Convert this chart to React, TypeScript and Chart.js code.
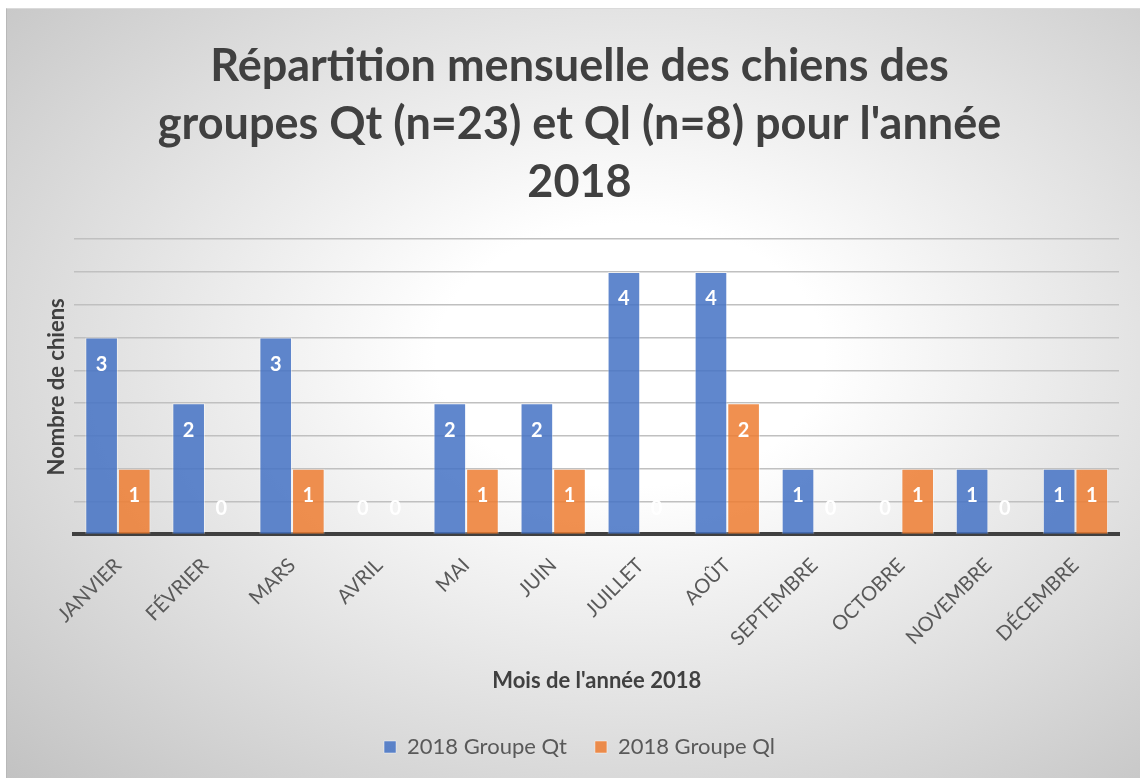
import React, { useEffect, useRef } from "react";
import { Chart, registerables } from "chart.js";

Chart.register(...registerables);

const months = ["JANVIER", "FÉVRIER", "MARS", "AVRIL", "MAI", "JUIN", "JUILLET", "AOÛT", "SEPTEMBRE", "OCTOBRE", "NOVEMBRE", "DÉCEMBRE"];
const groupeQt = [3, 2, 3, 0, 2, 2, 4, 4, 1, 0, 1, 1];
const groupeQl = [1, 0, 1, 0, 1, 1, 0, 2, 0, 1, 0, 1];
const seriesNames = ["2018 Groupe Qt", "2018 Groupe Ql"];
const titleLines = ["Répartition mensuelle des chiens des", "groupes Qt (n=23) et Ql (n=8) pour l'année", "2018"];
const yTitle = "Nombre de chiens";
const xTitle = "Mois de l'année 2018";

const FONT = "Lato, 'Open Sans', sans-serif";

const dataLabels = {
  id: "dataLabels",
  afterDatasetsDraw(chart: any) {
    const ctx = chart.ctx;
    ctx.save();
    ctx.fillStyle = "#ffffff";
    ctx.font = `bold 20px ${FONT}`;
    ctx.textAlign = "center";
    ctx.textBaseline = "middle";
    chart.data.datasets.forEach((ds: any, di: number) => {
      const meta = chart.getDatasetMeta(di);
      meta.data.forEach((bar: any, i: number) => {
        const v = ds.data[i];
        const y = v > 0 ? bar.y + 27 : bar.base - 26;
        ctx.fillText(String(v), bar.x, y);
      });
    });
    ctx.restore();
  },
};

export default function App() {
  const ref = useRef<HTMLCanvasElement>(null);
  useEffect(() => {
    if (!ref.current) return;
    const chart = new Chart(ref.current, {
      type: "bar",
      data: {
        labels: months,
        datasets: [
          {
            label: seriesNames[0],
            data: groupeQt,
            backgroundColor: "rgba(68,114,196,0.85)",
            borderColor: "rgba(255,255,255,0.45)",
            borderWidth: 1,
            categoryPercentage: 0.75,
            barPercentage: 1.0,
          },
          {
            label: seriesNames[1],
            data: groupeQl,
            backgroundColor: "rgba(237,125,49,0.85)",
            borderColor: "rgba(255,255,255,0.45)",
            borderWidth: 1,
            categoryPercentage: 0.75,
            barPercentage: 1.0,
          },
        ],
      },
      options: {
        animation: false,
        responsive: false,
        layout: { padding: { left: 33, right: 21, top: 28, bottom: 10 } },
        plugins: {
          title: {
            display: true,
            text: titleLines,
            color: "#404040",
            font: { family: FONT, size: 45, weight: "bold", lineHeight: 1.29 },
            padding: { top: 0, bottom: 28 },
          },
          legend: {
            position: "bottom",
            labels: {
              color: "#595959",
              font: { family: FONT, size: 22 },
              boxWidth: 12,
              boxHeight: 12,
              padding: 28,
            },
          },
          tooltip: { enabled: false },
        },
        scales: {
          x: {
            grid: { display: false },
            border: { display: true, color: "#404040", width: 4 },
            ticks: {
              color: "#595959",
              font: { family: FONT, size: 20 },
              maxRotation: 45,
              minRotation: 45,
              padding: 11,
            },
            title: {
              display: true,
              text: xTitle,
              color: "#404040",
              font: { family: FONT, size: 22, weight: "bold" },
              padding: { top: 6, bottom: 14 },
            },
          },
          y: {
            min: 0,
            max: 4.5,
            ticks: { display: false, stepSize: 0.5 },
            border: { display: false },
            grid: {
              color: (c: any) => (c.tick && c.tick.value === 0 ? "rgba(0,0,0,0)" : "#c0c0c0"),
              lineWidth: 1.5,
              drawTicks: false,
            },
            title: {
              display: true,
              text: yTitle,
              color: "#404040",
              font: { family: FONT, size: 22, weight: "bold" },
              padding: { top: 4, bottom: 4 },
            },
          },
        },
      },
      plugins: [dataLabels],
    });
    return () => chart.destroy();
  }, []);
  return (
    <div
      style={{
        position: "absolute",
        left: 6,
        top: 8,
        width: 1134,
        height: 770,
        borderLeft: "1px solid #b8b8b8",
        borderTop: "1px solid #dadada",
        boxSizing: "border-box",
        background: "radial-gradient(ellipse farthest-corner at 55% 45%, #ffffff 22%, #c2c2c2 100%)",
      }}
    >
      <canvas ref={ref} width={1133} height={769} style={{ display: "block" }} />
    </div>
  );
}
